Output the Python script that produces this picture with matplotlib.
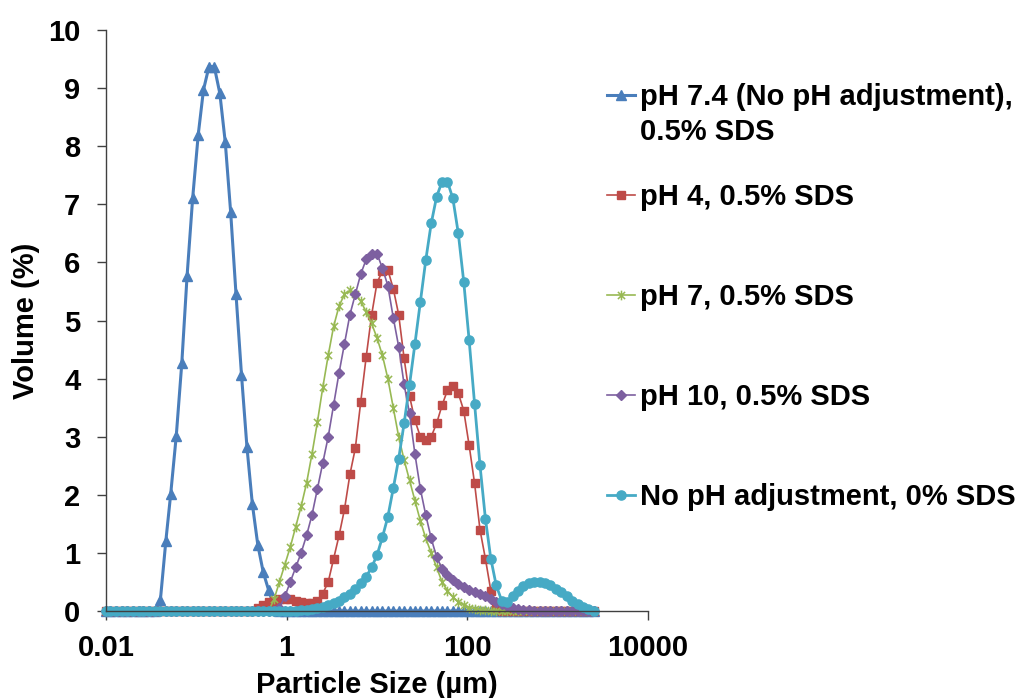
import matplotlib
matplotlib.use("Agg")
import matplotlib.pyplot as plt
from matplotlib.lines import Line2D
from matplotlib.path import Path
from matplotlib.ticker import FixedLocator, FixedFormatter, NullLocator

plt.rcParams['font.family'] = ['Liberation Sans', 'DejaVu Sans']
plt.rcParams['font.weight'] = 'bold'

# Laser-diffraction size classes (µm)
size_um = [
    0.010, 0.011, 0.013, 0.015, 0.017, 0.020, 0.023, 0.026, 0.030, 0.035,
    0.040, 0.046, 0.052, 0.060, 0.069, 0.079, 0.091, 0.105, 0.120, 0.138,
    0.158, 0.182, 0.209, 0.240, 0.275, 0.316, 0.363, 0.417, 0.479, 0.550,
    0.631, 0.724, 0.832, 0.955, 1.096, 1.259, 1.445, 1.660, 1.905, 2.188,
    2.512, 2.884, 3.311, 3.802, 4.365, 5.012, 5.754, 6.607, 7.586, 8.710,
    10.000, 11.482, 13.183, 15.136, 17.378, 19.953, 22.909, 26.303, 30.200, 34.674,
    39.811, 45.709, 52.481, 60.256, 69.183, 79.433, 91.201, 104.713, 120.226, 138.038,
    158.489, 181.970, 208.930, 239.883, 275.423, 316.228, 363.078, 416.869, 478.630, 549.541,
    630.957, 724.436, 831.764, 954.993, 1096.478, 1258.925, 1445.440, 1659.587, 1905.461, 2187.762,
    2511.886,
]

# Volume (%) per size class
ph74_sds05 = [
    0, 0, 0, 0, 0, 0, 0, 0, 0, 0,
    0.19, 1.21, 2.01, 3.02, 4.26, 5.77, 7.10, 8.20, 8.97, 9.37,
    9.37, 8.91, 8.07, 6.86, 5.45, 4.07, 2.83, 1.84, 1.14, 0.67,
    0.36, 0.08, 0, 0, 0, 0, 0, 0, 0, 0,
    0, 0, 0, 0, 0, 0, 0, 0, 0, 0,
    0, 0, 0, 0, 0, 0, 0, 0, 0, 0,
    0, 0, 0, 0, 0, 0, 0, 0, 0, 0,
    0, 0, 0, 0, 0, 0, 0, 0, 0, 0,
    0, 0, 0, 0, 0, 0, 0, 0, 0, 0,
    0,
]
ph4_sds05 = [
    0, 0, 0, 0, 0, 0, 0, 0, 0, 0,
    0, 0, 0, 0, 0, 0, 0, 0, 0, 0,
    0, 0, 0, 0, 0, 0, 0, 0, 0.05, 0.10,
    0.15, 0.18, 0.20, 0.20, 0.20, 0.18, 0.16, 0.14, 0.14, 0.18,
    0.30, 0.50, 0.90, 1.30, 1.75, 2.35, 2.80, 3.60, 4.37, 5.09,
    5.65, 5.85, 5.87, 5.55, 5.10, 4.35, 3.70, 3.28, 3.00, 2.95,
    3.00, 3.23, 3.54, 3.80, 3.88, 3.75, 3.45, 2.85, 2.20, 1.40,
    0.90, 0.35, 0.05, 0, 0, 0, 0, 0, 0, 0,
    0, 0, 0, 0, 0, 0, 0, 0, 0, 0,
    0,
]
ph7_sds05 = [
    0, 0, 0, 0, 0, 0, 0, 0, 0, 0,
    0, 0, 0, 0, 0, 0, 0, 0, 0, 0,
    0, 0, 0, 0, 0, 0, 0, 0, 0, 0,
    0, 0.20, 0.50, 0.80, 1.10, 1.45, 1.80, 2.20, 2.70, 3.25,
    3.85, 4.40, 4.90, 5.25, 5.45, 5.52, 5.45, 5.33, 5.15, 4.95,
    4.70, 4.40, 4.00, 3.50, 3.00, 2.60, 2.25, 1.90, 1.55, 1.25,
    1.00, 0.75, 0.50, 0.35, 0.24, 0.16, 0.10, 0.06, 0.04, 0.02,
    0.01, 0, 0, 0, 0, 0, 0, 0, 0, 0,
    0, 0, 0, 0, 0, 0, 0, 0, 0, 0,
    0,
]
ph10_sds05 = [
    0, 0, 0, 0, 0, 0, 0, 0, 0, 0,
    0, 0, 0, 0, 0, 0, 0, 0, 0, 0,
    0, 0, 0, 0, 0, 0, 0, 0, 0, 0,
    0, 0, 0.05, 0.25, 0.50, 0.75, 1.00, 1.30, 1.65, 2.10,
    2.55, 3.00, 3.55, 4.10, 4.60, 5.10, 5.45, 5.80, 6.05, 6.15,
    6.15, 5.90, 5.60, 5.05, 4.55, 3.90, 3.40, 2.70, 2.10, 1.65,
    1.25, 0.93, 0.73, 0.62, 0.53, 0.47, 0.41, 0.37, 0.33, 0.30,
    0.25, 0.20, 0.16, 0.12, 0.09, 0.06, 0.04, 0.02, 0.01, 0,
    0, 0, 0, 0, 0, 0, 0, 0, 0, 0,
    0,
]
noadj_sds0 = [
    0, 0, 0, 0, 0, 0, 0, 0, 0, 0,
    0, 0, 0, 0, 0, 0, 0, 0, 0, 0,
    0, 0, 0, 0, 0, 0, 0, 0, 0, 0,
    0, 0, 0, 0, 0, 0, 0.01, 0.02, 0.03, 0.05,
    0.07, 0.10, 0.14, 0.18, 0.24, 0.30, 0.38, 0.48, 0.59, 0.75,
    0.96, 1.27, 1.62, 2.11, 2.62, 3.23, 3.89, 4.60, 5.32, 6.04,
    6.67, 7.13, 7.39, 7.39, 7.10, 6.50, 5.67, 4.66, 3.57, 2.51,
    1.59, 0.90, 0.44, 0.18, 0.15, 0.25, 0.35, 0.43, 0.48, 0.50,
    0.50, 0.48, 0.44, 0.38, 0.32, 0.25, 0.18, 0.12, 0.07, 0.03,
    0,
]

series_values = [ph74_sds05, ph4_sds05, ph7_sds05, ph10_sds05, noadj_sds0]
series_labels = [
    "pH 7.4 (No pH adjustment),\n0.5% SDS",
    "pH 4, 0.5% SDS",
    "pH 7, 0.5% SDS",
    "pH 10, 0.5% SDS",
    "No pH adjustment, 0% SDS",
]
x_ticks = [0.01, 1, 100, 10000]
x_tick_labels = ["0.01", "1", "100", "10000"]
y_ticks = [0, 1, 2, 3, 4, 5, 6, 7, 8, 9, 10]

W, H = 1024, 698
fig = plt.figure(figsize=(W / 100, H / 100), dpi=100)
ax_left, ax_right, ax_top, ax_bottom = 106, 648, 30, 611
ax = fig.add_axes([ax_left / W, 1 - ax_bottom / H,
                   (ax_right - ax_left) / W, (ax_bottom - ax_top) / H])

# asterisk-style marker: an x crossed by a vertical stroke
star = Path([(-1, -1), (1, 1), (-1, 1), (1, -1), (0, -1.35), (0, 1.35)],
            [Path.MOVETO, Path.LINETO] * 3)

styles = [
    dict(color='#4A7EBB', marker='^', ms=7.0, lw=2.2),
    dict(color='#BE4B48', marker='s', ms=6.3, lw=1.2),
    dict(color='#98B954', marker=star, ms=7.0, lw=1.2, mfc='none', mew=1.1),
    dict(color='#7D60A0', marker='D', ms=4.8, lw=1.2),
    dict(color='#46AAC5', marker='o', ms=6.6, lw=2.0),
]

for vals, st in zip(series_values, styles):
    kw = dict(st)
    kw.setdefault('mec', st['color'])
    ax.plot(size_um, vals, clip_on=False, **kw)

ax.set_xscale('log')
ax.set_xlim(0.01, 10000)
ax.set_ylim(0, 10)
ax.xaxis.set_major_locator(FixedLocator(x_ticks))
ax.xaxis.set_major_formatter(FixedFormatter(x_tick_labels))
ax.xaxis.set_minor_locator(NullLocator())
ax.set_yticks(y_ticks)
ax.set_yticklabels([str(v) for v in y_ticks])

for side in ('top', 'right'):
    ax.spines[side].set_visible(False)
for side in ('left', 'bottom'):
    ax.spines[side].set_color('#404040')
    ax.spines[side].set_linewidth(1.0)

ax.tick_params(axis='both', direction='out', length=6.5, width=1.0,
               color='#404040', labelsize=21, labelcolor='black')
ax.tick_params(axis='x', pad=10)
ax.tick_params(axis='y', pad=12)

ax.set_ylabel('Volume (%)', fontsize=21, fontweight='bold', va='center')
ax.yaxis.set_label_coords((26 - ax_left) / (ax_right - ax_left), 0.5)
ax.set_xlabel('Particle Size (µm)', fontsize=21, fontweight='bold', va='baseline')
ax.xaxis.set_label_coords(0.5, (ax_bottom - 693) / (ax_bottom - ax_top))

# legend drawn in figure pixels: handle row y, baseline of the entry's last text line
handle_x0, handle_x1, text_x = 607, 635, 640
row_y = [95, 195, 295, 395, 495]
last_baseline = [140, 205, 305, 405, 505]
for label, st, yc, yb in zip(series_labels, styles, row_y, last_baseline):
    yf = 1 - yc / H
    kw = dict(st)
    kw.setdefault('mec', st['color'])
    marker_kw = {k: kw.pop(k) for k in ('marker', 'ms', 'mfc', 'mew', 'mec') if k in kw}
    fig.add_artist(Line2D([handle_x0 / W, (handle_x0 + handle_x1) / 2 / W, handle_x1 / W],
                          [yf, yf, yf], transform=fig.transFigure,
                          markevery=[1], **kw, **marker_kw))
    fig.text(text_x / W, 1 - yb / H, label, fontsize=21, fontweight='bold',
             ha='left', va='baseline', linespacing=1.3)

fig.savefig('out.png', dpi=100)
